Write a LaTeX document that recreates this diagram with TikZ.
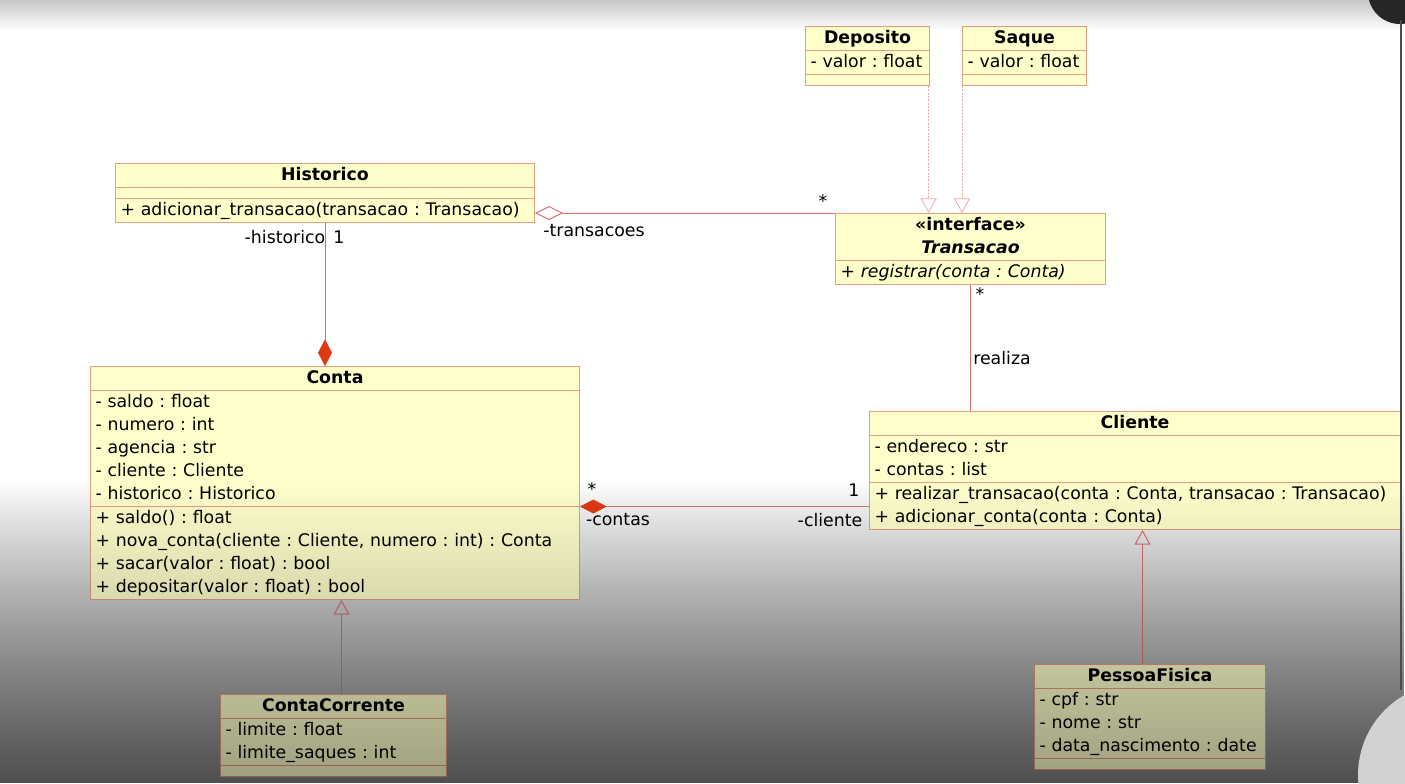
\documentclass[tikz,border=0pt]{standalone}
\usepackage{fontspec}
\setmainfont{DejaVu Sans}
\frenchspacing
\usetikzlibrary{shapes.multipart,arrows.meta,fadings}

\definecolor{umlfill}{RGB}{255,255,204}
\definecolor{umlborder}{RGB}{226,160,128}
\definecolor{umlline}{RGB}{214,112,112}
\definecolor{umlpale}{RGB}{236,170,170}
\definecolor{umlred}{RGB}{224,58,20}

\tikzfading[name=fadeback, top color=transparent!100, bottom color=transparent!50]
\tikzfading[name=fadebottom, top color=transparent!100, bottom color=transparent!62]
\tikzfading[name=fadetop, top color=transparent!78, bottom color=transparent!100]

\def\emptyrow{\rule{0pt}{7.5pt}}
\def\umltitle#1{\makebox[\hsize]{\strut\textbf{#1}}}

\tikzset{
  umlclass/.style={rectangle split, rectangle split parts=#1, draw=umlborder, fill=umlfill, line width=0.75pt,
    inner xsep=3.75pt, inner ysep=0pt, align=left, anchor=north west, font=\fontsize{13}{17.25}\selectfont\frenchspacing},
  assoc/.style={draw=umlline, line width=0.75pt},
  compo/.style={assoc, -{Diamond[length=20pt, width=10.5pt, umlred]}},
  aggreg/.style={assoc, -{Diamond[open, fill=white, length=21pt, width=10.5pt]}},
  realize/.style={draw=umlpale, line width=0.6pt, dash pattern=on 1.5pt off 1pt, -{Triangle[open, length=11pt, width=12pt]}},
  inherit/.style={assoc, -{Triangle[open, length=11pt, width=12pt]}},
  lbl/.style={inner sep=0pt, font=\fontsize{13}{15}\selectfont}
}

\begin{document}
\begin{tikzpicture}[x=0.75pt, y=-0.75pt]
		%%%%% START %%%%%
		\useasboundingbox (0,0) rectangle (1405,783);
		\clip (0,0) rectangle (1405,783);
		\fill[white] (0,0) rectangle (1405,783);
		\fill[black, path fading=fadeback] (0,480) rectangle (1405,783);
		
		\node[umlclass=3, text width=85.5pt] (deposito) at (805,26) {\umltitle{Deposito}\nodepart{two}\strut- valor : float\nodepart{three}\emptyrow};
		\node[umlclass=3, text width=85.5pt] (saque) at (962,26) {\umltitle{Saque}\nodepart{two}\strut- valor : float\nodepart{three}\emptyrow};
		
		\node[umlclass=3, text width=306.75pt] (historico) at (115,163) {\umltitle{Historico}\nodepart{two}\emptyrow\nodepart{three}\strut+ adicionar\_transacao(transacao : Transacao)};
		\node[umlclass=2, text width=195pt] (transacao) at (835,213) {\umltitle{«interface»}\\\umltitle{\itshape Transacao}\nodepart{two}\itshape\strut+ registrar(conta : Conta)};
		
		\node[umlclass=3, text width=359.25pt] (conta) at (90,366) {\umltitle{Conta}\nodepart{two}\strut- saldo : float\\\strut- numero : int\\\strut- agencia : str\\\strut- cliente : Cliente\\\strut- historico : Historico\nodepart{three}\strut+ saldo() : float\\\strut+ nova\_conta(cliente : Cliente, numero : int) : Conta\\\strut+ sacar(valor : float) : bool\\\strut+ depositar(valor : float) : bool};
		\node[umlclass=3, text width=390.75pt] (cliente) at (869,411) {\umltitle{Cliente}\nodepart{two}\strut- endereco : str\\\strut- contas : list\nodepart{three}\strut+ realizar\_transacao(conta : Conta, transacao : Transacao)\\\strut+ adicionar\_conta(conta : Conta)};
		
		\node[umlclass=3, text width=162pt] (contacorrente) at (220,694) {\umltitle{ContaCorrente}\nodepart{two}\strut- limite : float\\\strut- limite\_saques : int\nodepart{three}\emptyrow};
		\node[umlclass=3, text width=165.75pt] (pessoafisica) at (1034,664) {\umltitle{PessoaFisica}\nodepart{two}\strut- cpf : str\\\strut- nome : str\\\strut- data\_nascimento : date\nodepart{three}\emptyrow};
		
		% links
		\draw[realize] ([xshift=-1pt]deposito.south east) -- ([xshift=-1pt]deposito.south east |- transacao.north);
		\draw[realize] (saque.south west) -- (saque.south west |- transacao.north);
		\draw[aggreg] (transacao.north west) -- (historico.east |- transacao.north west);
		\draw[compo] (historico.south) -- (historico.south |- conta.north);
		\draw[assoc] (transacao.south) -- (transacao.south |- cliente.north);
		\draw[compo] (cliente.west |- conta.two split east) -- (conta.two split east);
		\draw[inherit] ([xshift=6pt]contacorrente.north) -- ([xshift=6pt]contacorrente.north |- conta.south);
		\draw[inherit] ([xshift=-5.6pt]pessoafisica.north) -- ([xshift=-5.6pt]pessoafisica.north |- cliente.south);
		
		\node[lbl] (mult-trans) at (823,201) {*};
		\node[lbl] (role-trans) at (594,231) {-transacoes};
		\node[lbl] (role-hist) at (285,237) {-historico};
		\node[lbl] (mult-hist) at (339,237) {1};
		\node[lbl] (mult-real) at (980,294) {*};
		\node[lbl] (role-real) at (1002,358) {realiza};
		\node[lbl] (mult-contas) at (592,489) {*};
		\node[lbl] (role-contas) at (618,520) {-contas};
		\node[lbl] (mult-cliente) at (854,490) {1};
		\node[lbl] (role-cliente) at (830,520) {-cliente};
		
		% screen shading
		\fill[black, path fading=fadetop] (0,0) rectangle (1405,30);
		\fill[black, path fading=fadebottom] (0,480) rectangle (1405,783);
		\fill[black!85] (1400,-8) circle (32);
		\draw[black!70, line width=1.5pt] (1401,20) -- (1401,690);
		\fill[gray!35] (1450,775) circle (92);
		%%%%% END %%%%%
	\end{tikzpicture}
\end{document}
